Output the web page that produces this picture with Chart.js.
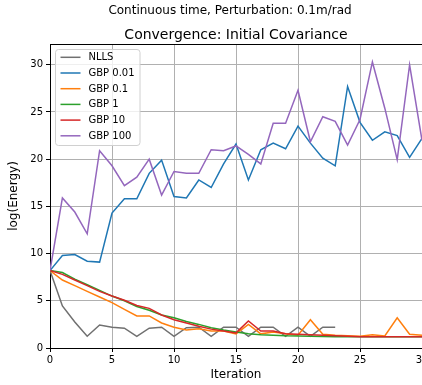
<!DOCTYPE html>
<html>
<head>
<meta charset="utf-8">
<script src="https://cdn.jsdelivr.net/npm/chart.js@4/dist/chart.umd.min.js"></script>
<style>
  html, body { margin: 0; padding: 0; background: white; overflow: hidden; }
  canvas { display: block; }
</style>
</head>
<body>
<canvas id="chart" width="422" height="385"></canvas>
<script>
// data
const iterations = [0, 1, 2, 3, 4, 5, 6, 7, 8, 9, 10, 11, 12, 13, 14, 15,
  16, 17, 18, 19, 20, 21, 22, 23, 24, 25, 26, 27, 28, 29, 30];

const nlls = [8.2, 4.45, 2.75, 1.24, 2.44, 2.2, 2.1, 1.24, 2.1, 2.2, 1.24, 2.15,
  2.2, 1.24, 2.2, 2.2, 1.24, 2.2, 2.2, 1.24, 2.2, 1.24, 2.2, 2.2];

const gbp_001 = [8.2, 9.8, 9.9, 9.2, 9.1, 14.3, 15.8, 15.8, 18.5, 19.9, 16.05, 15.9,
  17.8, 17.0, 19.5, 21.6, 17.8, 21.0, 21.7, 21.1, 23.5, 21.7, 20.1, 19.3, 27.7,
  23.9, 22.0, 22.9, 22.5, 20.2, 22.2];

const gbp_01 = [8.2, 7.2, 6.6, 6.0, 5.4, 4.8, 4.1, 3.4, 3.4, 2.65, 2.2, 1.9, 2.05,
  1.8, 1.8, 1.5, 2.5, 1.5, 1.7, 1.5, 1.35, 3.0, 1.45, 1.35, 1.3, 1.25, 1.4, 1.27,
  3.2, 1.45, 1.35];

const gbp_1 = [8.2, 8.0, 7.3, 6.7, 6.1, 5.5, 5.0, 4.4, 4.0, 3.5, 3.2, 2.8, 2.5,
  2.15, 1.9, 1.7, 1.5, 1.4, 1.35, 1.3, 1.28, 1.25, 1.22, 1.2, 1.2, 1.2, 1.2, 1.2,
  1.2, 1.2, 1.2];

const gbp_10 = [8.2, 7.8, 7.2, 6.6, 6.0, 5.5, 5.05, 4.5, 4.2, 3.5, 3.0, 2.65, 2.3,
  2.0, 1.8, 1.6, 2.86, 1.8, 1.8, 1.5, 1.45, 1.4, 1.35, 1.3, 1.25, 1.2, 1.2, 1.2,
  1.2, 1.2, 1.2];

const gbp_100 = [8.2, 15.9, 14.4, 12.1, 20.9, 19.3, 17.2, 18.1, 20.0, 16.2, 18.7,
  18.5, 18.5, 21.0, 20.9, 21.4, 20.5, 19.5, 23.8, 23.8, 27.3, 21.85, 24.5, 24.0,
  21.5, 24.2, 30.3, 25.4, 19.95, 30.0, 22.0];

const series_labels = ['NLLS', 'GBP 0.01', 'GBP 0.1', 'GBP 1', 'GBP 10', 'GBP 100'];
const series_values = [nlls, gbp_001, gbp_01, gbp_1, gbp_10, gbp_100];
const series_colors = ['#707070', '#1f77b4', '#ff7f0e', '#2ca02c', '#d62728', '#9467bd'];

const suptitle = 'Continuous time, Perturbation: 0.1m/rad';
const title = 'Convergence: Initial Covariance';
const xlabel = 'Iteration';
const ylabel = 'log(Energy)';

const FONT = "'DejaVu Sans', 'Liberation Sans', sans-serif";
Chart.defaults.font.family = FONT;
Chart.defaults.color = '#000';

const points = (values) => values.map((v, i) => ({x: iterations[i], y: v}));

const datasets = series_values.map((values, i) => ({
  label: series_labels[i],
  data: points(values),
  borderColor: series_colors[i],
  backgroundColor: series_colors[i],
  borderWidth: 1.5,
  pointRadius: 0,
  tension: 0,
  fill: false,
  order: series_values.length - i,   // later series on top, like matplotlib
}));

// legend box, titles and top spine drawn by hand
const decorations = {
  id: 'decorations',
  afterDatasetsDraw(chart) {
    const ctx = chart.ctx;
    const area = chart.chartArea;
    const bx = area.left + 5.5, by = area.top + 5.5, bw = 84.5, bh = 96;
    const rowh = 15.7;

    ctx.save();
    ctx.beginPath();
    ctx.roundRect(bx, by, bw, bh, 3);
    ctx.fillStyle = 'rgba(255, 255, 255, 0.8)';
    ctx.fill();
    ctx.strokeStyle = '#d0d0d0';
    ctx.lineWidth = 1;
    ctx.stroke();

    ctx.font = `10px ${FONT}`;
    ctx.textBaseline = 'middle';
    ctx.textAlign = 'left';
    chart.data.datasets.forEach((ds, i) => {
      const y = by + 7.8 + i * rowh;
      ctx.strokeStyle = ds.borderColor;
      ctx.lineWidth = 1.5;
      ctx.beginPath();
      ctx.moveTo(bx + 5, y);
      ctx.lineTo(bx + 25, y);
      ctx.stroke();
      ctx.fillStyle = '#000';
      ctx.fillText(ds.label, bx + 33, y + 0.5);
    });
    ctx.restore();
  },
  afterDraw(chart) {
    const ctx = chart.ctx;
    const area = chart.chartArea;
    ctx.save();
    // top spine
    ctx.strokeStyle = '#000';
    ctx.lineWidth = 1;
    ctx.beginPath();
    ctx.moveTo(area.left, area.top + 0.5);
    ctx.lineTo(area.right, area.top + 0.5);
    ctx.stroke();

    ctx.fillStyle = '#000';
    ctx.textAlign = 'center';
    ctx.textBaseline = 'alphabetic';
    ctx.font = `12px ${FONT}`;
    ctx.fillText(suptitle, 230, 14);
    ctx.font = `14px ${FONT}`;
    ctx.fillText(title, 236, 38.5);
    ctx.restore();
  },
};

new Chart(document.getElementById('chart'), {
  type: 'line',
  data: { datasets: datasets },
  options: {
    responsive: false,
    animation: false,
    events: [],
    layout: {
      autoPadding: false,
      padding: { top: 44, right: 0, bottom: 0, left: 0 },
    },
    scales: {
      x: {
        type: 'linear',
        min: 0,
        max: 30,
        ticks: { stepSize: 5, font: { size: 10 }, padding: 2, maxRotation: 0 },
        grid: { color: '#b0b0b0', lineWidth: 1, tickColor: '#000', tickLength: 4 },
        border: { color: '#000', width: 1 },
        title: { display: true, text: xlabel, font: { size: 12 }, padding: { top: 0, bottom: 3 } },
        afterFit: (scale) => {
          scale.height = 37;
          // let the plot run to the right edge, "30" gets cut like the reference
          scale.paddingLeft = 0;
          scale.paddingRight = 0;
        },
      },
      y: {
        type: 'linear',
        min: 0,
        max: 32.2,
        ticks: { stepSize: 5, font: { size: 10 }, padding: 3 },
        grid: { color: '#b0b0b0', lineWidth: 1, tickColor: '#000', tickLength: 4 },
        border: { color: '#000', width: 1 },
        title: { display: true, text: ylabel, font: { size: 12 }, padding: { top: 7, bottom: 0 } },
        afterBuildTicks: (scale) => {
          scale.ticks = scale.ticks.filter(t => t.value % 5 === 0);
        },
        afterFit: (scale) => {
          scale.width = 50;
          scale.paddingTop = 0;
          scale.paddingBottom = 0;
        },
      },
    },
    plugins: {
      legend: { display: false },
      tooltip: { enabled: false },
      title: { display: false },
    },
  },
  plugins: [decorations],
});
</script>
</body>
</html>
